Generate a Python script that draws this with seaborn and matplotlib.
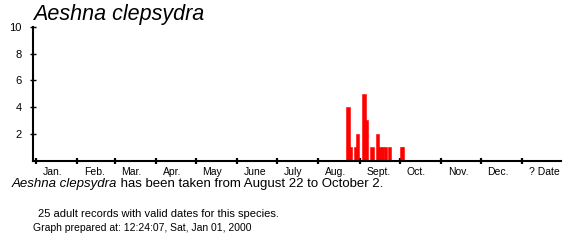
import matplotlib
matplotlib.use("Agg")
import matplotlib.pyplot as plt
import seaborn as sns
import pandas as pd
import numpy as np

# ---------------- data ----------------
species = "Aeshna clepsydra"
record_dates = ["08-22", "08-24", "08-28", "08-29", "09-03", "09-05", "09-09",
                "09-13", "09-15", "09-17", "09-19", "09-22", "10-01", "10-02"]
record_counts = [4, 1, 1, 2, 5, 3, 1, 2, 1, 1, 1, 1, 1, 1]
month_labels = ["Jan.", "Feb.", "Mar.", "Apr.", "May", "June", "July",
                "Aug.", "Sept.", "Oct.", "Nov.", "Dec.", "? Date"]
month_start_dates = ["01-01", "02-01", "03-01", "04-01", "05-01", "06-01", "07-01",
                     "08-01", "09-01", "10-01", "11-01", "12-01"]
y_ticks = [2, 4, 6, 8, 10]
first_date = "August 22"
last_date = "October 2"
n_records = 25
prepared_at = "12:24:07, Sat, Jan 01, 2000"

# ---------------- setup ----------------
sns.set_style("white")
plt.rcParams["font.family"] = ["Liberation Sans", "DejaVu Sans"]
plt.rcParams["text.color"] = "black"

def doy(md):
    return pd.Timestamp("2001-" + md).dayofyear - 1

bar_days = 2.5
days = np.array([doy(d) for d in record_dates], dtype=float)
df = pd.DataFrame({"day": days + bar_days / 2, "count": record_counts})

month_starts = [doy(m) for m in month_start_dates] + [365]

W, H = 581, 245
fig = plt.figure(figsize=(W / 100, H / 100), dpi=100)
ax = fig.add_axes([33 / W, 84.5 / H, 528 / W, 133.5 / H])

sns.barplot(data=df, x="day", y="count", native_scale=True, width=bar_days,
            color="#ff0000", saturation=1, errorbar=None, ax=ax,
            edgecolor="#ff0000", linewidth=0.4)

ax.set_xlim(-2.25, 394.1)
ax.set_ylim(0, 10)
ax.set_xlabel("")
ax.set_ylabel("")

for s in ["top", "right"]:
    ax.spines[s].set_visible(False)
for s in ["left", "bottom"]:
    ax.spines[s].set_color("black")
    ax.spines[s].set_linewidth(1.5)

ax.set_yticks(y_ticks)
ax.set_yticklabels([str(v) for v in y_ticks])
ax.tick_params(axis="y", which="major", left=True, direction="inout", length=4,
               width=1, labelsize=8, pad=6, colors="black")

ax.set_xticks(month_starts)
ax.set_xticklabels([""] * len(month_starts))
ax.set_xticks([m + 5 for m in month_starts], minor=True)
ax.set_xticklabels(month_labels, minor=True, ha="left")
ax.tick_params(axis="x", which="major", bottom=True, direction="inout", length=5,
               width=1.6, colors="black")
ax.tick_params(axis="x", which="minor", bottom=True, length=0, labelsize=7.5,
               pad=5, colors="black")

# title
fig.text(33 / W, (H - 20) / H, species, fontsize=15.5, style="italic",
         ha="left", va="baseline", color="black")

# caption lines
t1 = fig.text(12 / W, (H - 187) / H, species, fontsize=9.5, style="italic",
              ha="left", va="baseline", color="black")
fig.canvas.draw()
bb = t1.get_window_extent(renderer=fig.canvas.get_renderer())
fig.text(bb.x1 / W, (H - 187) / H,
         f" has been taken from {first_date} to {last_date}.",
         fontsize=9.5, ha="left", va="baseline", color="black")
fig.text(38 / W, (H - 216.7) / H,
         f"{n_records} adult records with valid dates for this species.",
         fontsize=8, ha="left", va="baseline", color="black")
fig.text(33 / W, (H - 230.7) / H, f"Graph prepared at: {prepared_at}",
         fontsize=7.5, ha="left", va="baseline", color="black")

fig.savefig("out.png", dpi=100, facecolor="white")
